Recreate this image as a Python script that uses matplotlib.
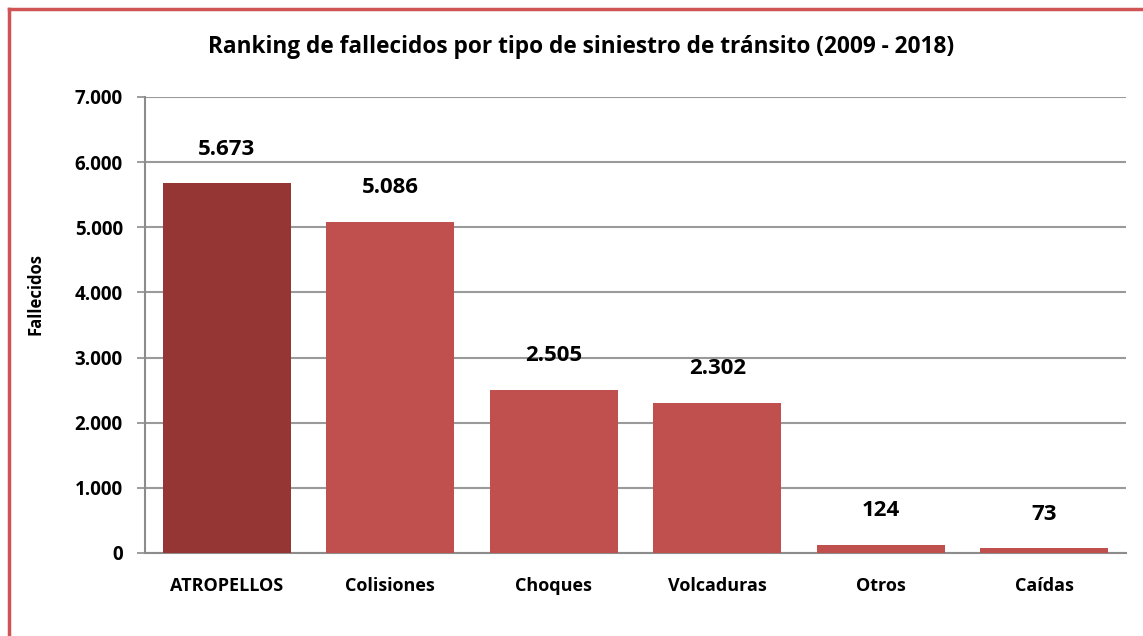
import matplotlib
matplotlib.use('Agg')
import matplotlib.pyplot as plt
from matplotlib.lines import Line2D
from matplotlib.ticker import FuncFormatter

categories = ['ATROPELLOS', 'Colisiones', 'Choques', 'Volcaduras', 'Otros', 'Caídas']
values = [5673, 5086, 2505, 2302, 124, 73]
colors = ['#963634', '#C0504D', '#C0504D', '#C0504D', '#C0504D', '#C0504D']

plt.rcParams['font.family'] = ['Open Sans', 'DejaVu Sans']
plt.rcParams['font.weight'] = 'bold'

def miles(v, pos=None):
	return '{:,.0f}'.format(v).replace(',', '.')

fig = plt.figure(figsize=(11.43, 6.36), dpi=100)
ax = fig.add_axes([145/1143, 1-553/636, 981/1143, 456/636])

x = range(len(categories))
bars = ax.bar(x, values, width=0.78, color=colors, zorder=3)
for i, v in enumerate(values):
	ax.annotate(miles(v), (i, v), xytext=(0, 17), textcoords='offset points',
		ha='center', va='bottom', fontsize=16, fontweight='bold')

ax.set_xlim(-0.5, len(categories) - 0.5)
ax.set_ylim(0, 7000)
ax.set_yticks(range(0, 7001, 1000))
ax.yaxis.set_major_formatter(FuncFormatter(miles))
ax.set_xticks(list(x))
ax.set_xticklabels(categories, fontsize=13, fontweight='bold')
ax.tick_params(axis='x', length=0, pad=17)
ax.tick_params(axis='y', length=6, color='#8c8c8c', width=1.2, labelsize=13.5, pad=10)
ax.yaxis.grid(True, color='#9a9a9a', lw=1.5, zorder=0)
for s in ['top', 'right']:
	ax.spines[s].set_visible(False)
for s in ['left', 'bottom']:
	ax.spines[s].set_color('#8c8c8c')
	ax.spines[s].set_linewidth(1.5)

fig.text(35/1143, 1-294/636, 'Fallecidos', rotation=90, ha='center', va='center',
	fontsize=12, fontweight='bold')

fig.text(581/1143, 1-47/636, 'Ranking de fallecidos por tipo de siniestro de tránsito (2009 - 2018)',
	ha='center', va='center', fontsize=16.3, fontweight='bold')

# marco rojo (solo arriba e izquierda visibles)
fig.add_artist(Line2D([9/1143, 1.0], [1-9/636, 1-9/636], color='#d05454', lw=2.5, transform=fig.transFigure))
fig.add_artist(Line2D([9/1143, 9/1143], [0, 1-9/636], color='#d05454', lw=2.5, transform=fig.transFigure))

fig.savefig('out.png', dpi=100)
